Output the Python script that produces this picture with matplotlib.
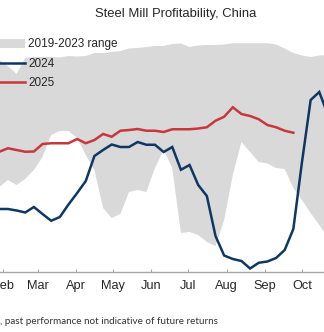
import numpy as np
import pandas as pd
import matplotlib
matplotlib.use("Agg")
import matplotlib.pyplot as plt
import matplotlib.dates as mdates

# Weekly observation dates (common reference year), Jan 22 .. Oct 28
weeks = pd.date_range("2023-01-22", periods=41, freq="7D")

# Steel mill profitability, % of mills profitable
range_low = [34.0, 34.0, 36.8, 34.8, 37.2, 40.8, 46.0, 54.8, 56.4, 56.4, 53.6,
             46.8, 40.8, 25.6, 21.6, 23.2, 32.0, 32.8, 32.0, 41.6, 48.8,
             41.6, 15.6, 16.0, 14.8, 12.0, 10.4, 20.8, 38.8, 52.0, 48.0,
             44.0, 43.4, 41.6, 41.2, 33.6, 28.8, 23.6, 18.8, 13.6, 10.0]
range_high = [84.0, 84.8, 82.4, 79.2, 85.6, 86.0, 86.0, 86.0, 85.8, 86.4, 86.2,
              86.4, 87.6, 87.6, 88.0, 88.4, 89.4, 89.6, 90.0, 90.4, 90.4,
              91.2, 91.4, 90.0, 90.6, 90.8, 90.8, 91.0, 91.5, 91.5, 91.5,
              91.5, 91.5, 91.0, 89.4, 87.6, 86.6, 86.0, 86.6, 86.8, 87.0]
y2024 = [25.2, 25.2, 25.2, 24.6, 23.8, 26.0, 23.2, 20.5, 22.0, 27.0, 31.6,
         36.4, 46.4, 48.8, 51.0, 50.0, 50.0, 52.0, 50.9, 50.9, 48.0,
         50.0, 40.9, 42.8, 34.8, 30.4, 14.4, 6.6, 5.2, 4.4, 1.4,
         3.7, 4.2, 5.6, 8.8, 17.2, 44.0, 68.8, 72.0, 62.8, 55.0]
y2025 = [48.1, 48.1, 49.5, 48.8, 48.1, 48.2, 51.2, 51.5, 51.5, 51.5, 53.2,
         51.5, 52.8, 55.2, 54.1, 56.5, 56.8, 57.2, 56.5, 56.5, 56.0,
         57.1, 57.1, 57.1, 57.4, 57.9, 60.5, 62.1, 65.9, 63.2, 62.4,
         61.1, 58.8, 57.9, 56.5, 55.7]

title = "Steel Mill Profitability, China"
footer = ", past performance not indicative of future returns"

W, H = 324, 332
fig = plt.figure(figsize=(W / 100, H / 100), dpi=100)
fig.patch.set_facecolor("white")

# axes extends beyond the visible canvas (chart is cropped)
px_per_day = 1.2355
left_px = -35.3
width_px = 365 * px_per_day
bottom_px = 272
height_px = 250
ax = fig.add_axes([left_px / W, (H - bottom_px) / H, width_px / W, height_px / H])

band = ax.fill_between(weeks, range_low, range_high, color="#d9d9d9", lw=0,
                       label="2019-2023 range")
l24, = ax.plot(weeks, y2024, color="#0f3764", lw=1.8, label="2024",
               solid_joinstyle="miter")
l25, = ax.plot(weeks[:len(y2025)], y2025, color="#c8373b", lw=1.8, label="2025",
               solid_joinstyle="miter")

ax.set_xlim(pd.Timestamp("2023-01-01"), pd.Timestamp("2024-01-01"))
ax.set_ylim(0, 100)
ax.xaxis.set_major_locator(mdates.MonthLocator())
ax.xaxis.set_major_formatter(mdates.DateFormatter("%b"))
ax.tick_params(axis="x", direction="in", length=2.5, width=0.8, color="#a6a6a6",
               labelsize=9.2, labelcolor="#262626", pad=6)
ax.set_yticks([])
for s in ["left", "right", "top"]:
    ax.spines[s].set_visible(False)
ax.spines["bottom"].set_color("#a6a6a6")
ax.spines["bottom"].set_linewidth(1.0)
for lab in ax.get_xticklabels():
    lab.set_fontfamily("Liberation Sans")

fig.text(176 / W, 1 - 14 / H, title, ha="center", va="center", fontsize=9.4,
         family="Liberation Sans", color="#262626")

leg = fig.legend(handles=[band, l24, l25], loc="upper left",
                 bbox_to_anchor=(-6 / W, 1 - 38.5 / H), frameon=False,
                 prop={"family": "Liberation Sans", "size": 8.5},
                 handlelength=2.6, handletextpad=0.3, labelspacing=0.62,
                 borderpad=0, borderaxespad=0)
for t in leg.get_texts():
    t.set_color("#262626")

fig.text(0 / W, 1 - 322 / H, footer, ha="left", va="center", fontsize=7.1,
         family="Lato", color="#333333")

fig.savefig("out.png", dpi=100)
